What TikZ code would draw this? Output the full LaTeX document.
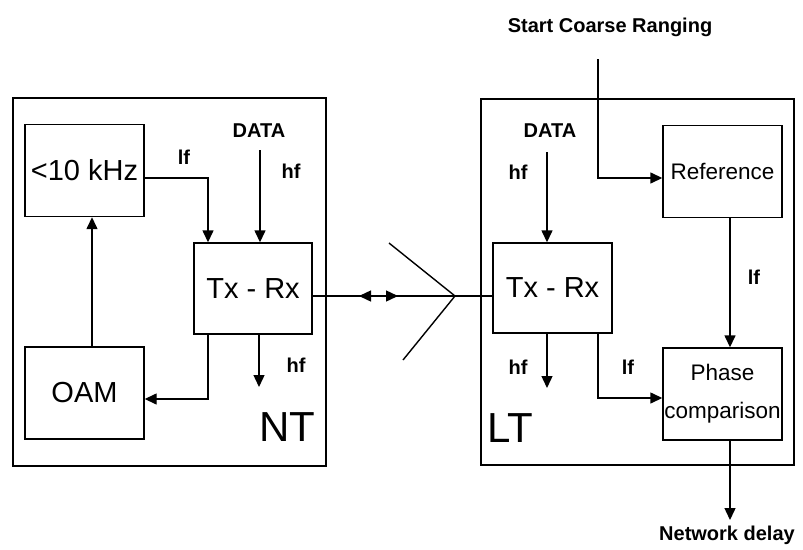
\documentclass[tikz,border=0pt]{standalone}
\usepackage{fontspec}
\setmainfont{Liberation Sans}
\usetikzlibrary{arrows.meta}
\begin{document}
\begin{tikzpicture}[x=1pt,y=-1pt,
  line width=1.4pt,
  box/.style={draw,minimum width=119pt,minimum height=92pt,inner sep=0pt,font=\fontsize{29}{29}\selectfont},
  rbox/.style={draw,minimum width=119pt,minimum height=92pt,inner sep=0pt,align=center,font=\fontsize{22.5}{38}\selectfont},
  lbl/.style={inner sep=0pt,font=\fontsize{20}{20}\selectfont\bfseries},
  big/.style={inner sep=0pt,font=\fontsize{42}{42}\selectfont},
  arr/.style={-{Triangle[length=12pt,width=11pt]}}]
\useasboundingbox (0,0) rectangle (803,549);
% outer frames
\draw (13,98) rectangle (326,466);
\draw (481,99) rectangle (794,465);
% NT side
\node[box] (osc) at (84.5,170.5) {<10 kHz};
\node[box] (oam) at (84.5,393) {OAM};
\node[box,minimum width=118pt,minimum height=91pt] (txn) at (253,288.5) {Tx - Rx};
\node[lbl] (dataN) at (259,131) {DATA};
\node[lbl] (lfN) at (184,157) {lf};
\node[lbl] (hfN1) at (291,171) {hf};
\node[lbl] (hfN2) at (296,365) {hf};
\node[big] (NT) at (287,427) {NT};
\coordinate (dN) at (260,150);
\coordinate (hfNend) at (259,387);
\draw[arr] ([yshift=-7.5pt]osc.east) -| ([xshift=-45pt]txn.north);
\draw[arr] (dN) -- (dN |- txn.north);
\draw[arr] ([xshift=7.5pt]oam.north) -- ([xshift=7.5pt]osc.south);
\draw[arr] ([xshift=-45pt]txn.south) |- ([yshift=-6pt]oam.east);
\draw[arr] (hfNend |- txn.south) -- (hfNend);
% LT side
\node[rbox] (ref) at (722.5,171.5) {Reference};
\node[box,minimum height=90pt] (txl) at (552.5,288) {Tx - Rx};
\node[rbox] (phase) at (722.5,394) {Phase\\comparison};
\node[lbl] (dataL) at (550,131) {DATA};
\node[lbl] (hfL1) at (518,172) {hf};
\node[lbl] (lfL1) at (754,277) {lf};
\node[lbl] (hfL2) at (518,367) {hf};
\node[lbl] (lfL2) at (628,367) {lf};
\node[big] (LT) at (510,428) {LT};
\node[lbl] (scr) at (610,27) {Start Coarse Ranging};
\node[lbl] (nd) at (727,535) {Network delay};
\coordinate (dL) at (547,152);
\coordinate (scrTop) at (598,59);
\coordinate (hfLend) at (547,388);
\coordinate (ndEnd) at (730,520);
\draw[arr] (dL) -- (dL |- txl.north);
\draw[arr] (scrTop) |- ([yshift=-6.5pt]ref.west);
\draw[arr] ([xshift=7.5pt]ref.south) -- ([xshift=7.5pt]phase.north);
\draw[arr] ([xshift=45.5pt]txl.south) |- ([yshift=-4pt]phase.west);
\draw[arr] (hfLend |- txl.south) -- (hfLend);
\draw[arr] ([xshift=7.5pt]phase.south) -- (ndEnd);
% line between transceivers with antenna
\coordinate (apex) at (455,296);
\draw ([yshift=-7.5pt]txn.east) -- (txn.east |- apex) -- (apex) -- (apex -| txl.west);
\draw (389,243) -- (apex) -- (403,360);
\draw[arr] (374,296) -- (359,296);
\draw[arr] (383,296) -- (398,296);
\end{tikzpicture}
\end{document}
